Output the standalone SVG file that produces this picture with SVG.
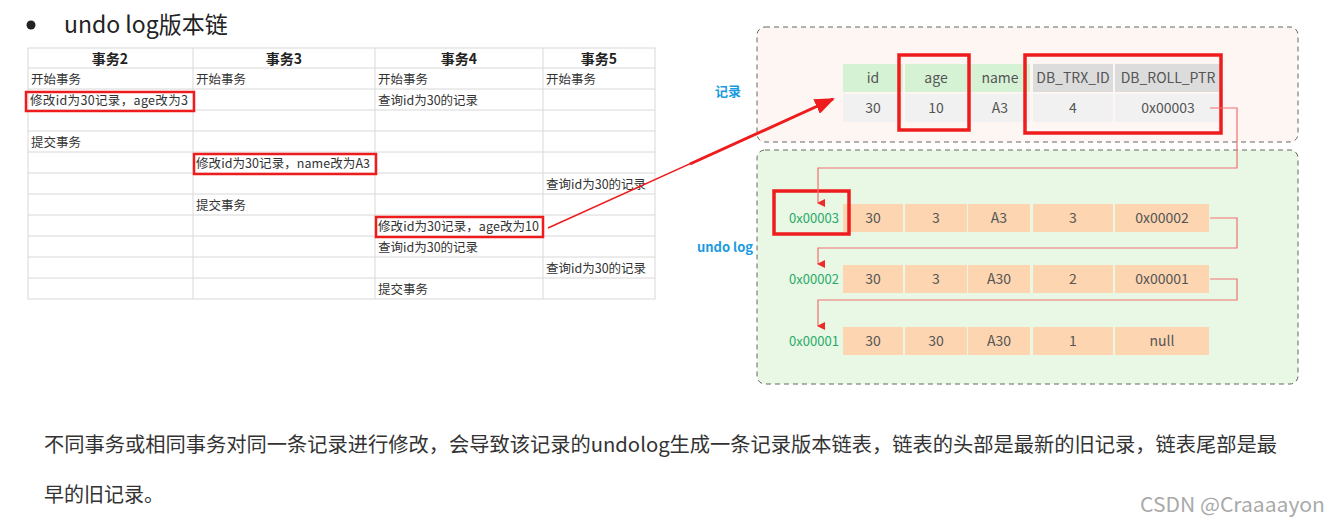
<svg xmlns="http://www.w3.org/2000/svg" width="1330" height="527" viewBox="0 0 1330 527">
<defs>
<style>
text{font-family:"Noto Sans CJK SC","Noto Sans",sans-serif;}
.t{font-size:12.5px;fill:#333;}
.th{font-size:14px;font-weight:bold;fill:#222;text-anchor:middle;}
.g{stroke:#d8d8d8;stroke-width:1;fill:none;}
.rb{fill:none;stroke:#ee1c1c;stroke-width:2.5;}
.rb2{fill:none;stroke:#ee1c1c;stroke-width:3.5;}
.c{font-size:14px;fill:#555;text-anchor:middle;}
.hg{fill:#d5f2d5;}.hd{fill:#dcdcdc;}.v{fill:#f1f1f1;}.o{fill:#fdd5b1;}
.a{font-size:13px;fill:#2aaa6a;text-anchor:middle;}
.ln{fill:none;stroke:#f07070;stroke-width:1.2;}
</style>
<marker id="ah" markerWidth="8" markerHeight="8" refX="4" refY="7" orient="auto-start-reverse" markerUnits="userSpaceOnUse"><path d="M0,0 L8,0 L4,8z" fill="#ee2a2a" transform="rotate(0)"/></marker>
<marker id="big" markerWidth="20" markerHeight="16" refX="18" refY="8" orient="auto" markerUnits="userSpaceOnUse"><path d="M0,0 L20,8 L0,16z" fill="#ee1c1c"/></marker>
</defs>
<rect width="1330" height="527" fill="#fff"/>
<circle cx="31" cy="25" r="4.5" fill="#222"/>
<text x="64" y="33" font-size="23" fill="#222">undo log版本链</text>

<g id="table">
<rect x="28" y="48" width="627" height="251" fill="#fff" stroke="#d8d8d8"/>
<path class="g" d="M193,48V299M375,48V299M543,48V299M28,68H655M28,89H655M28,110H655M28,131H655M28,152H655M28,173H655M28,194H655M28,215H655M28,236H655M28,257H655M28,278H655"/>
<text class="th" x="110" y="64">事务2</text><text class="th" x="284" y="64">事务3</text><text class="th" x="459" y="64">事务4</text><text class="th" x="599" y="64">事务5</text>
<text class="t" x="31" y="84">开始事务</text><text class="t" x="196" y="84">开始事务</text><text class="t" x="378" y="84">开始事务</text><text class="t" x="546" y="84">开始事务</text>
<text class="t" x="30" y="105" textLength="158">修改id为30记录，age改为3</text><text class="t" x="378" y="105">查询id为30的记录</text>
<text class="t" x="31" y="147">提交事务</text>
<text class="t" x="196" y="168" textLength="174">修改id为30记录，name改为A3</text>
<text class="t" x="546" y="189">查询id为30的记录</text>
<text class="t" x="196" y="210">提交事务</text>
<text class="t" x="378" y="231" textLength="161">修改id为30记录，age改为10</text>
<text class="t" x="378" y="252">查询id为30的记录</text>
<text class="t" x="546" y="273">查询id为30的记录</text>
<text class="t" x="378" y="294">提交事务</text>
<rect class="rb" x="26" y="92" width="168" height="19"/>
<rect class="rb" x="194" y="154" width="182" height="20"/>
<rect class="rb" x="376" y="217" width="167" height="20"/>
</g>

<g id="record">
<rect x="757" y="27" width="541" height="115" rx="8" fill="#fdf6f2" stroke="#666" stroke-dasharray="5,4"/>
<text x="715" y="96" font-size="13" font-weight="bold" fill="#1a9be0">记录</text>
<rect class="hg" x="843" y="64" width="60" height="28"/><rect class="hg" x="905" y="64" width="63" height="28"/><rect class="hg" x="970" y="64" width="60" height="28"/>
<rect class="hd" x="1033" y="64" width="80" height="28"/><rect class="hd" x="1115" y="64" width="107" height="28"/>
<rect class="v" x="843" y="94" width="60" height="28"/><rect class="v" x="905" y="94" width="63" height="28"/><rect class="v" x="970" y="94" width="60" height="28"/><rect class="v" x="1033" y="94" width="80" height="28"/><rect class="v" x="1115" y="94" width="107" height="28"/>
<text class="c" x="873" y="83">id</text><text class="c" x="936" y="83">age</text><text class="c" x="1000" y="83">name</text><text class="c" x="1073" y="83">DB_TRX_ID</text><text class="c" x="1168" y="83">DB_ROLL_PTR</text>
<text class="c" x="873" y="113">30</text><text class="c" x="936" y="113">10</text><text class="c" x="1000" y="113">A3</text><text class="c" x="1073" y="113">4</text><text class="c" x="1168" y="113">0x00003</text>
<rect class="rb2" x="899" y="55" width="70" height="75"/>
<rect class="rb2" x="1025" y="55" width="196" height="78"/>
</g>

<g id="undolog">
<rect x="757" y="150" width="541" height="234" rx="8" fill="#e8f8e4" stroke="#666" stroke-dasharray="5,4"/>
<text x="697" y="252" font-size="13" font-weight="bold" fill="#1a9be0">undo log</text>
<g id="u1">
<rect class="o" x="843" y="204" width="60" height="28"/><rect class="o" x="905" y="204" width="62" height="28"/><rect class="o" x="968" y="204" width="62" height="28"/><rect class="o" x="1033" y="204" width="80" height="28"/><rect class="o" x="1115" y="204" width="94" height="28"/>
<text class="a" x="814" y="223">0x00003</text><text class="c" x="873" y="223">30</text><text class="c" x="936" y="223">3</text><text class="c" x="999" y="223">A3</text><text class="c" x="1073" y="223">3</text><text class="c" x="1162" y="223">0x00002</text>
<rect class="rb2" x="774" y="191" width="75" height="43"/>
</g>
<g id="u2">
<rect class="o" x="843" y="265" width="60" height="28"/><rect class="o" x="905" y="265" width="62" height="28"/><rect class="o" x="968" y="265" width="62" height="28"/><rect class="o" x="1033" y="265" width="80" height="28"/><rect class="o" x="1115" y="265" width="94" height="28"/>
<text class="a" x="814" y="284">0x00002</text><text class="c" x="873" y="284">30</text><text class="c" x="936" y="284">3</text><text class="c" x="999" y="284">A30</text><text class="c" x="1073" y="284">2</text><text class="c" x="1162" y="284">0x00001</text>
</g>
<g id="u3">
<rect class="o" x="843" y="327" width="60" height="28"/><rect class="o" x="905" y="327" width="62" height="28"/><rect class="o" x="968" y="327" width="62" height="28"/><rect class="o" x="1033" y="327" width="80" height="28"/><rect class="o" x="1115" y="327" width="94" height="28"/>
<text class="a" x="814" y="346">0x00001</text><text class="c" x="873" y="346">30</text><text class="c" x="936" y="346">30</text><text class="c" x="999" y="346">A30</text><text class="c" x="1073" y="346">1</text><text class="c" x="1162" y="346">null</text>
</g>
</g>

<g id="connectors">
<path class="ln" d="M1210,108H1237V168H818V203" marker-end="url(#ah)"/>
<path class="ln" d="M1210,218H1237V248H818V264" marker-end="url(#ah)"/>
<path class="ln" d="M1210,279H1237V300H818V326" marker-end="url(#ah)"/>
<path d="M548,228L833,99" stroke="#ee1c1c" stroke-width="1.5" fill="none"/>
<path d="M690,164L833,99" stroke="#ee1c1c" stroke-width="3" fill="none" marker-end="url(#big)"/>
</g>

<text x="44" y="452" font-size="20" fill="#333" textLength="1233" lengthAdjust="spacingAndGlyphs">不同事务或相同事务对同一条记录进行修改，会导致该记录的undolog生成一条记录版本链表，链表的头部是最新的旧记录，链表尾部是最</text>
<text x="44" y="502" font-size="20" fill="#333">早的旧记录。</text>
<text x="1140" y="512" font-size="20" fill="#aaa" textLength="185" lengthAdjust="spacingAndGlyphs">CSDN @Craaaayon</text>
</svg>
